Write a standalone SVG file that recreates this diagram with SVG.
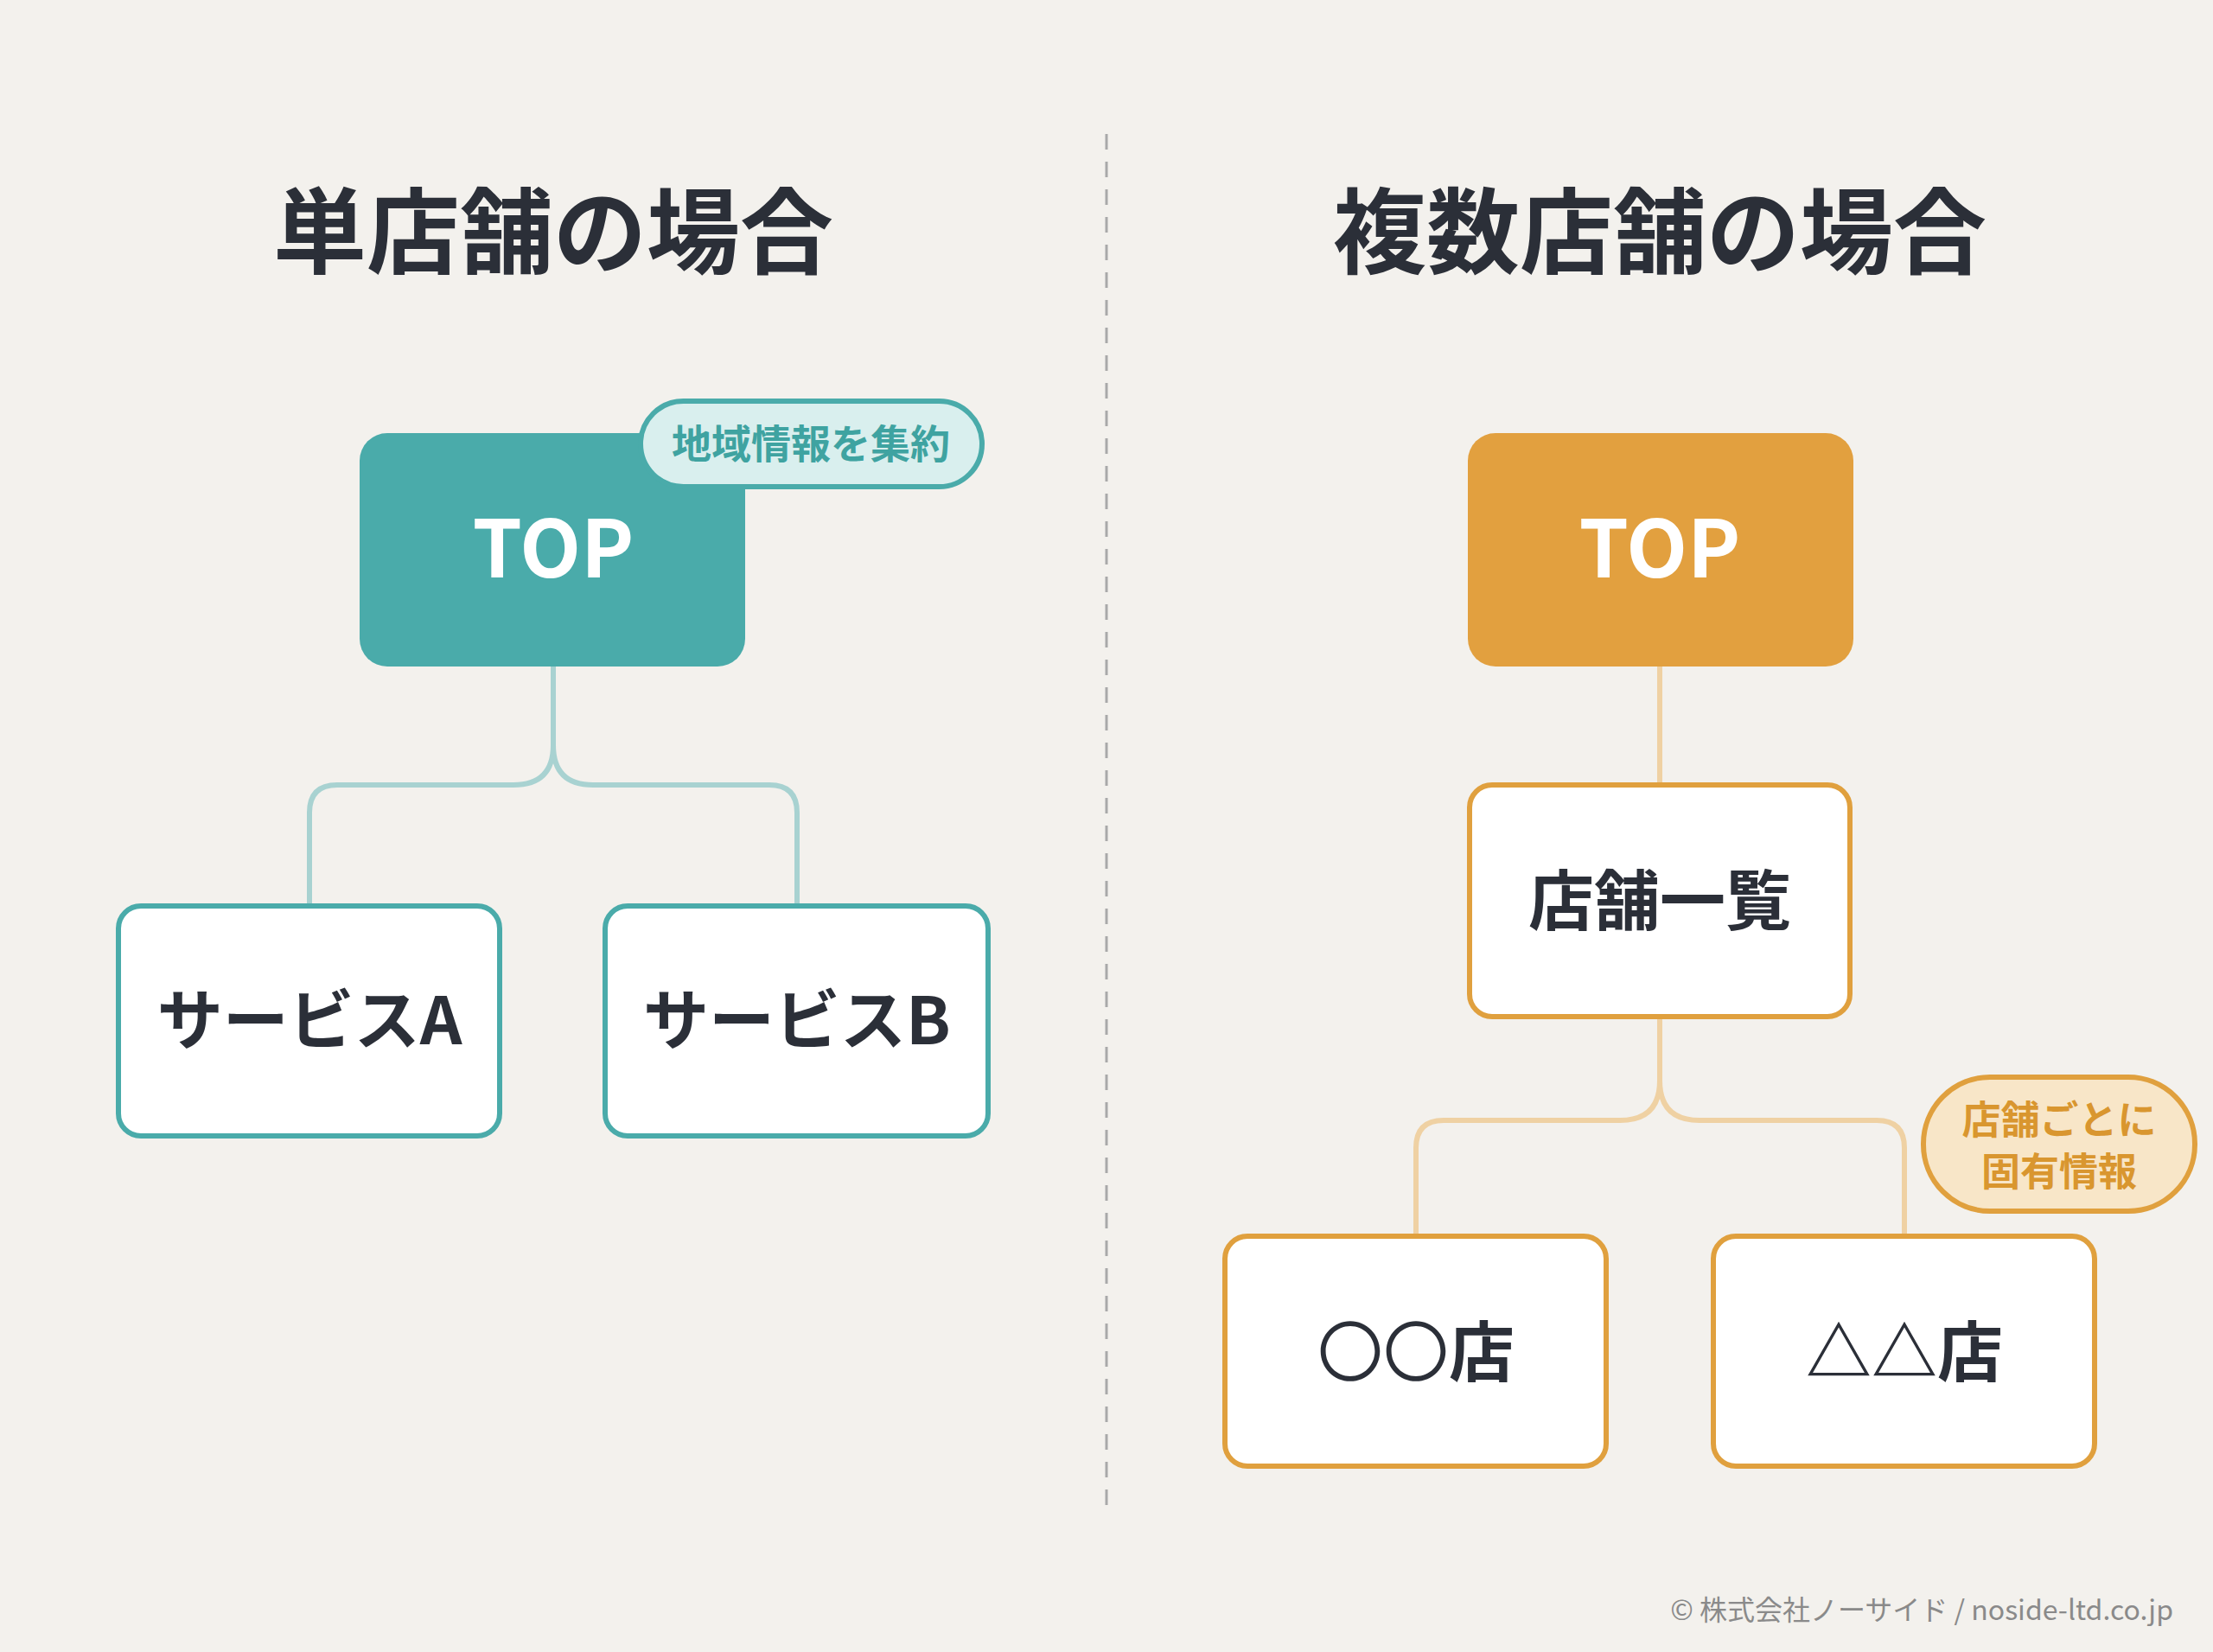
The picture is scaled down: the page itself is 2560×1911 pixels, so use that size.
<svg xmlns="http://www.w3.org/2000/svg" width="2560" height="1911" viewBox="0 0 2560 1911">
<style>
.t{font-family:"Noto Sans CJK JP","Noto Sans",sans-serif;font-weight:700;text-anchor:middle}
.title{font-size:108px;fill:#2b2f38}
.lbl{font-size:76px;fill:#2b2f38}
.top{font-size:92px;fill:#fff}
.box{fill:#fff;stroke-width:6}
.tl{stroke:#4aabaa}
.or{stroke:#e0a03e}
.c{fill:none;stroke-width:6}
</style>
<rect width="2560" height="1911" fill="#f3f1ed"/>
<line x1="1280" y1="155" x2="1280" y2="1755" stroke="#a9a9a9" stroke-width="3" stroke-dasharray="18 14"/>
<text class="t title" x="640" y="308">単店舗の場合</text>
<text class="t title" x="1920" y="308">複数店舗の場合</text>
<g id="connectors">
<path class="c" stroke="#a8d2d1" d="M640 771V862Q640 908 594 908H390Q358 908 358 940V1048M640 862Q640 908 686 908H890Q922 908 922 940V1048"/>
<path class="c" stroke="#efd1a3" d="M1920 771V908M1920 1176V1250Q1920 1296 1874 1296H1670Q1638 1296 1638 1328V1430M1920 1250Q1920 1296 1966 1296H2171Q2203 1296 2203 1328V1430"/>
</g>
<g id="top-left"><rect x="416" y="501" width="446" height="270" rx="32" fill="#4aabaa"/><text class="t top" x="640" y="668">TOP</text></g>
<g id="badge-left"><rect x="741" y="464" width="395" height="99" rx="49.5" fill="#d9efee" stroke="#4aabaa" stroke-width="6"/><text class="t" x="938" y="530" font-size="46" fill="#3fa3a1">地域情報を集約</text></g>
<g id="service-a"><rect class="box tl" x="137" y="1048" width="441" height="266" rx="26"/><text class="t lbl" x="358" y="1208">サービスA</text></g>
<g id="service-b"><rect class="box tl" x="700" y="1048" width="443" height="266" rx="26"/><text class="t lbl" x="922" y="1208">サービスB</text></g>
<g id="top-right"><rect x="1698" y="501" width="446" height="270" rx="32" fill="#e2a03f"/><text class="t top" x="1920" y="668">TOP</text></g>
<g id="store-list"><rect class="box or" x="1700" y="908" width="440" height="268" rx="26"/><text class="t lbl" x="1920" y="1070">店舗一覧</text></g>
<g id="store-1"><rect class="box or" x="1417" y="1430" width="441" height="266" rx="26"/><text class="t lbl" x="1638" y="1592"><tspan font-weight="400">〇〇</tspan>店</text></g>
<g id="store-2"><rect class="box or" x="1982" y="1430" width="441" height="266" rx="26"/><text class="t lbl" x="2203" y="1592">△△店</text></g>
<g id="badge-right"><rect x="2225" y="1246" width="314" height="155" rx="77" fill="#f8e6c8" stroke="#e0a03e" stroke-width="6"/><text class="t" x="2382" y="1312" font-size="45" fill="#d9962f">店舗ごとに</text><text class="t" x="2382" y="1372" font-size="45" fill="#d9962f">固有情報</text></g>
<text x="2514" y="1874" font-family="Noto Sans CJK JP,Noto Sans,sans-serif" font-size="32" fill="#8a8a8a" text-anchor="end">© 株式会社ノーサイド / noside-ltd.co.jp</text>
</svg>
